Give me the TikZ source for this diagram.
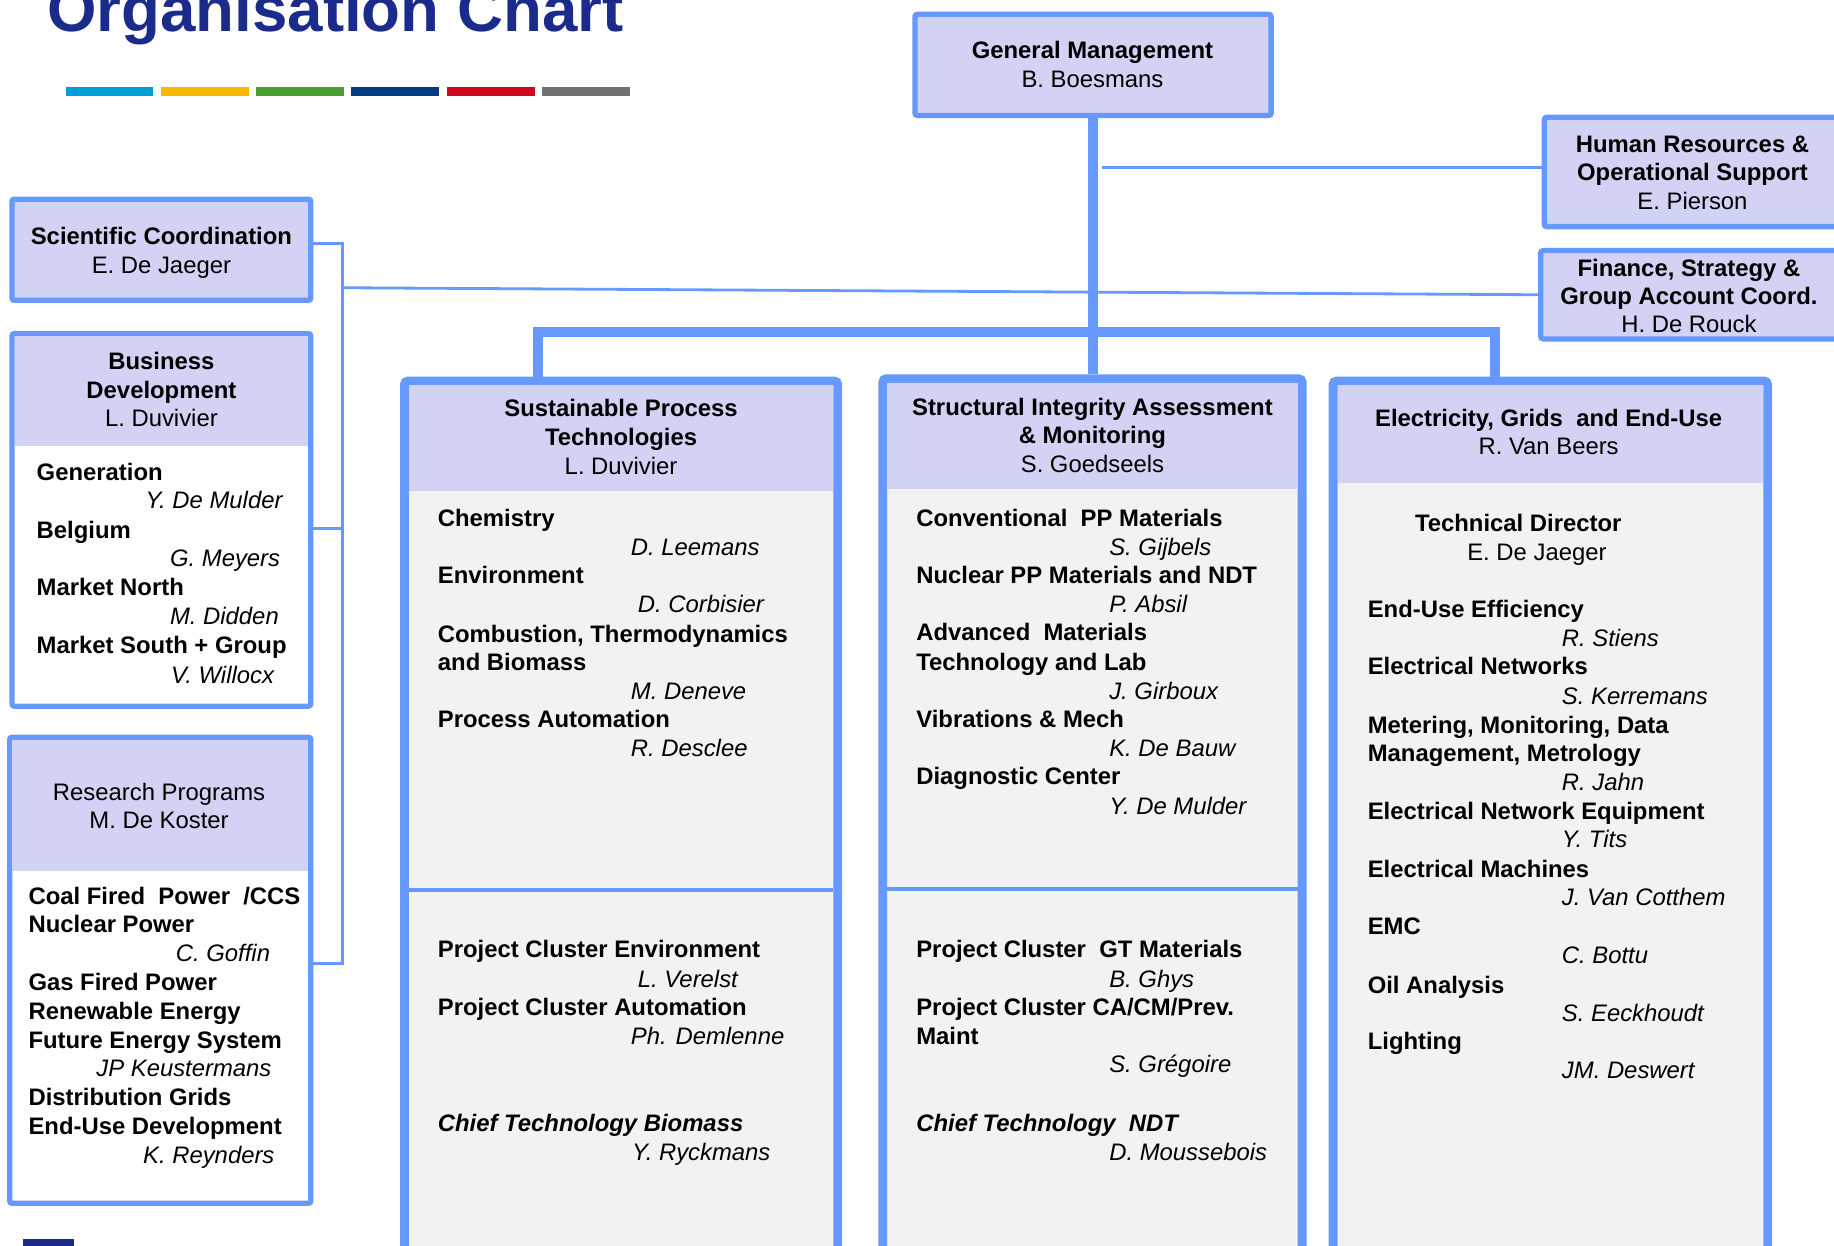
\documentclass[tikz,border=0pt]{standalone}
\usepackage{fontspec}
\setmainfont{Liberation Sans}
\usepackage{tikz}

\definecolor{orgblue}{HTML}{6699FF}
\definecolor{headfill}{HTML}{D2D2F4}
\definecolor{bodyfill}{HTML}{F2F2F2}
\definecolor{titleblue}{HTML}{1A2B8C}
\definecolor{stripcyan}{HTML}{009FDA}
\definecolor{stripyellow}{HTML}{F9B800}
\definecolor{stripgreen}{HTML}{47A02E}
\definecolor{stripnavy}{HTML}{003C84}
\definecolor{stripred}{HTML}{CE0A21}
\definecolor{stripgray}{HTML}{707070}

\tikzset{
  smallbox/.style={draw=orgblue, line width=2.25pt, fill=headfill, rounded corners=1pt, inner sep=0pt},
  bigbox/.style={draw=orgblue, line width=3.75pt, fill=bodyfill, rounded corners=1.5pt, inner sep=0pt},
  trunk/.style={draw=orgblue, line width=4.25pt},
  link/.style={draw=orgblue, line width=1.2pt},
  hd/.style={inner sep=0pt, anchor=base, font=\bfseries},
  hn/.style={inner sep=0pt, anchor=base},
  unitname/.style={inner sep=0pt, anchor=base west, font=\bfseries},
  person/.style={inner sep=0pt, anchor=base west, font=\itshape},
  chief/.style={inner sep=0pt, anchor=base west, font=\bfseries\itshape}
}

\begin{document}
\fontsize{10.2}{12}\selectfont
\begin{tikzpicture}[x=0.5pt, y=-0.5pt]
\useasboundingbox (0,0) rectangle (1568,1065);

% title and colour strip
\node[inner sep=0pt, anchor=base west, text=titleblue, font=\fontsize{27.2}{30}\selectfont\bfseries] (title) at (40,27) {Organisation Chart};
\fill[stripcyan] (56,74.5) rectangle (131,82);
\fill[stripyellow] (137.5,74.5) rectangle (212.5,82);
\fill[stripgreen] (219,74.5) rectangle (294,82);
\fill[stripnavy] (300.5,74.5) rectangle (375.5,82);
\fill[stripred] (382,74.5) rectangle (457,82);
\fill[stripgray] (463.5,74.5) rectangle (538.5,82);
\fill[titleblue] (20,1059) rectangle (63,1070);

% boxes
\node[smallbox, minimum width=152.25pt, minimum height=43.25pt] (gm) at (934.5,55.5) {};
\node[smallbox, minimum width=127.75pt, minimum height=46.75pt] (hr) at (1448,147) {};
\node[smallbox, minimum width=127.75pt, minimum height=37.75pt] (fsg) at (1445,252) {};
\node[smallbox, minimum width=127.75pt, minimum height=43.25pt] (sc) at (138,213.5) {};
\node[smallbox, fill=white, minimum width=127.75pt, minimum height=159.25pt] (bd) at (138,444.5) {};
\fill[headfill] (12.5,287.5) rectangle (263.5,381);
\node[smallbox, fill=white, minimum width=128.75pt, minimum height=199.25pt] (rp) at (137,829.5) {};
\fill[headfill] (10.5,632.5) rectangle (263.5,745);
\node[bigbox, minimum width=185.25pt, minimum height=375.25pt] (spt) at (531,701) {};
\fill[headfill] (349.5,329.5) rectangle (712.5,420);
\node[bigbox, minimum width=179.25pt, minimum height=376.25pt] (sia) at (934,700) {};
\fill[headfill] (758.5,327.5) rectangle (1109.5,418);
\node[bigbox, minimum width=185.75pt, minimum height=375.25pt] (egu) at (1325.5,701) {};
\fill[headfill] (1143.5,329.5) rectangle (1507.5,413);
\draw[orgblue, line width=1.5pt] (349.5,761) -- (712.5,761);
\draw[orgblue, line width=1.5pt] (758.5,760) -- (1109.5,760);

% connectors
\coordinate (busw) at (460,284);
\coordinate (buse) at (1278,284);
\coordinate (hrj) at (942,143);
\coordinate (scj) at (293,246);
\coordinate (brt) at (293,208);
\coordinate (brb) at (293,824);
\draw[trunk] (gm.south) -- (gm.south |- sia.north);
\draw[trunk] (spt.north -| busw) -- (busw) -- (buse) -- (egu.north -| buse);
\draw[link] (hrj) -- (hr.west |- hrj);
\draw[link] (scj) -- (fsg.west);
\draw[link] (sc.east |- brt) -- (brt) -- (brb) -- (rp.east |- brb);
\draw[link] (bd.east |- 0,452) -- (brt |- 0,452);

% general management and staff
\node[hd] (gm1) at (934,50) {General Management};
\node[hn] (gm2) at (934,75) {B. Boesmans};
\node[hd] (hr1) at (1447,130) {Human Resources \&};
\node[hd] (hr2) at (1447,154) {Operational Support};
\node[hn] (hr3) at (1447,179) {E. Pierson};
\node[hd] (fsg1) at (1444,236) {Finance, Strategy \&};
\node[hd] (fsg2) at (1444,260) {Group Account Coord.};
\node[hn] (fsg3) at (1444,284) {H. De Rouck};
\node[hd] (sc1) at (138,209) {Scientific Coordination};
\node[hn] (sc2) at (138,234) {E. De Jaeger};

% business development
\node[hd] (bd1) at (138,316) {Business};
\node[hd] (bd2) at (138,341) {Development};
\node[hn] (bd3) at (138,365) {L. Duvivier};
\node[unitname] (gen) at (31,411) {Generation};
\node[person] (gen2) at (124,435) {Y. De Mulder};
\node[unitname] (bel) at (31,460) {Belgium};
\node[person] (bel2) at (145,484) {G. Meyers};
\node[unitname] (mno) at (31,509) {Market North};
\node[person] (mno2) at (145,534) {M. Didden};
\node[unitname] (mso) at (31,559) {Market South + Group};
\node[person] (mso2) at (146,584) {V. Willocx};

% research programs
\node[hn] (rp1) at (136,684) {Research Programs};
\node[hn] (rp2) at (136,708) {M. De Koster};
\node[unitname] (cfp) at (24,773) {Coal Fired~ Power~ /CCS};
\node[unitname] (nup) at (24,797) {Nuclear Power};
\node[person] (nup2) at (150,822) {C. Goffin};
\node[unitname] (gfp) at (24,847) {Gas Fired Power};
\node[unitname] (ren) at (24,872) {Renewable Energy};
\node[unitname] (fes) at (24,896) {Future Energy System};
\node[person] (fes2) at (82,920) {JP Keustermans};
\node[unitname] (dgr) at (24,945) {Distribution Grids};
\node[unitname] (eud) at (24,970) {End-Use Development};
\node[person] (eud2) at (122,995) {K. Reynders};

% sustainable process technologies
\node[hd] (spt1) at (531,356) {Sustainable Process};
\node[hd] (spt2) at (531,381) {Technologies};
\node[hn] (spt3) at (531,406) {L. Duvivier};
\node[unitname] (che) at (374,450) {Chemistry};
\node[person] (che2) at (539,475) {D. Leemans};
\node[unitname] (env) at (374,499) {Environment};
\node[person] (env2) at (545,524) {D. Corbisier};
\node[unitname] (cmb) at (374,549) {Combustion, Thermodynamics};
\node[unitname] (cmb1) at (374,573) {and Biomass};
\node[person] (cmb2) at (539,598) {M. Deneve};
\node[unitname] (pau) at (374,622) {Process Automation};
\node[person] (pau2) at (539,647) {R. Desclee};
\node[unitname] (pce) at (374,819) {Project Cluster Environment};
\node[person] (pce2) at (545,844) {L. Verelst};
\node[unitname] (pca) at (374,868) {Project Cluster Automation};
\node[person] (pca2) at (539,893) {Ph. Demlenne};
\node[chief] (ctb) at (374,967) {Chief Technology Biomass};
\node[person] (ctb2) at (540,992) {Y. Ryckmans};

% structural integrity assessment
\node[hd] (sia1) at (934,355) {Structural Integrity Assessment};
\node[hd] (sia2) at (934,379) {\& Monitoring};
\node[hn] (sia3) at (934,404) {S. Goedseels};
\node[unitname] (cpp) at (783,450) {Conventional~ PP Materials};
\node[person] (cpp2) at (948,475) {S. Gijbels};
\node[unitname] (npp) at (783,499) {Nuclear PP Materials and NDT};
\node[person] (npp2) at (948,524) {P. Absil};
\node[unitname] (adm) at (783,548) {Advanced~ Materials};
\node[unitname] (adm1) at (783,573) {Technology and Lab};
\node[person] (adm2) at (948,598) {J. Girboux};
\node[unitname] (vib) at (783,622) {Vibrations \& Mech};
\node[person] (vib2) at (948,647) {K. De Bauw};
\node[unitname] (dia) at (783,671) {Diagnostic Center};
\node[person] (dia2) at (948,696) {Y. De Mulder};
\node[unitname] (pgt) at (783,819) {Project Cluster~ GT Materials};
\node[person] (pgt2) at (948,844) {B. Ghys};
\node[unitname] (pcm) at (783,868) {Project Cluster CA/CM/Prev.};
\node[unitname] (pcm1) at (783,893) {Maint};
\node[person] (pcm2) at (948,917) {S. Grégoire};
\node[chief] (ctn) at (783,967) {Chief Technology~ NDT};
\node[person] (ctn2) at (948,992) {D. Moussebois};

% electricity, grids and end-use
\node[hd] (egu1) at (1324,365) {Electricity, Grids~ and End-Use};
\node[hn] (egu2) at (1324,389) {R. Van Beers};
\node[hd] (tdi) at (1298,454) {Technical Director};
\node[hn] (tdi2) at (1314,479) {E. De Jaeger};
\node[unitname] (eue) at (1169,528) {End-Use Efficiency};
\node[person] (eue2) at (1335,553) {R. Stiens};
\node[unitname] (eln) at (1169,577) {Electrical Networks};
\node[person] (eln2) at (1335,602) {S. Kerremans};
\node[unitname] (met) at (1169,627) {Metering, Monitoring, Data};
\node[unitname] (met1) at (1169,651) {Management, Metrology};
\node[person] (met2) at (1335,676) {R. Jahn};
\node[unitname] (ene) at (1169,701) {Electrical Network Equipment};
\node[person] (ene2) at (1335,725) {Y. Tits};
\node[unitname] (elm) at (1169,750) {Electrical Machines};
\node[person] (elm2) at (1335,774) {J. Van Cotthem};
\node[unitname] (emc) at (1169,799) {EMC};
\node[person] (emc2) at (1335,824) {C. Bottu};
\node[unitname] (oil) at (1169,849) {Oil Analysis};
\node[person] (oil2) at (1335,873) {S. Eeckhoudt};
\node[unitname] (lig) at (1169,897) {Lighting};
\node[person] (lig2) at (1335,922) {JM. Deswert};
\end{tikzpicture}
\end{document}
